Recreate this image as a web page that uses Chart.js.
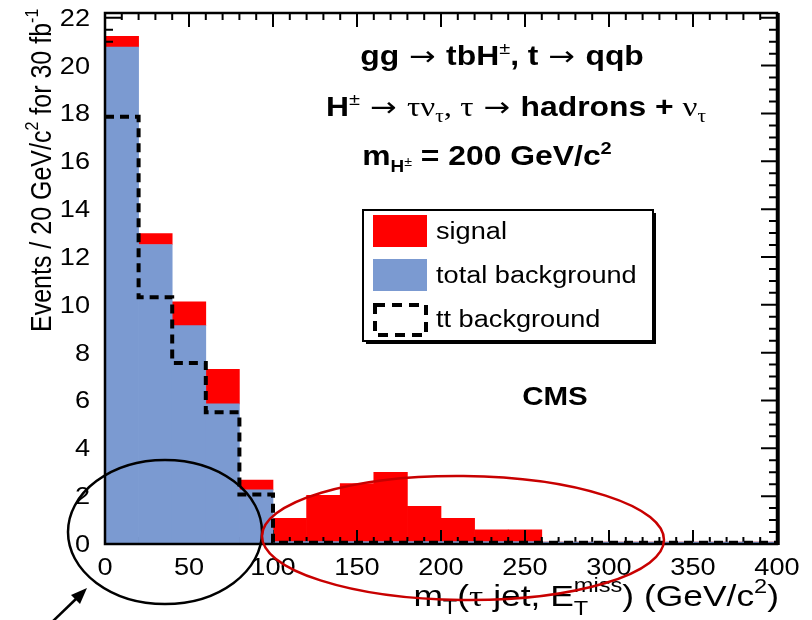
<!DOCTYPE html>
<html>
<head>
<meta charset="utf-8">
<script src="https://cdn.jsdelivr.net/npm/chart.js@4/dist/chart.umd.min.js"></script>
<style>
  html, body { margin: 0; background: #fff; }
  #myChart { display: block; }
</style>
</head>
<body>
<canvas id="myChart" width="812" height="620"></canvas>
<script>
// mT(tau jet, MET) histogram, 20 GeV bins from 0 to 400
const binCenters = [10, 30, 50, 70, 90, 110, 130, 150, 170, 190, 210, 230, 250, 270, 290, 310, 330, 350, 370, 390];
const totalBackground = [20.77, 12.52, 9.13, 5.86, 2.26, 0.1, 0.1, 0.1, 0.1, 0.1, 0.1, 0.1, 0.1, 0.08, 0.08, 0.08, 0.08, 0.08, 0.08, 0.08];
const signal = [0.45, 0.46, 0.99, 1.44, 0.41, 0.97, 1.93, 2.43, 2.9, 1.47, 0.97, 0.49, 0.49, 0, 0, 0, 0, 0, 0, 0];
// tt background as a step line, one value per left bin edge (+ closing edge)
const ttEdges = [0, 20, 40, 60, 80, 100, 120, 140, 160, 180, 200, 220, 240, 260, 280, 300, 320, 340, 360, 380, 400];
const ttBackground = [17.86, 10.32, 7.57, 5.51, 2.07, 0.05, 0.05, 0.05, 0.05, 0.05, 0.05, 0.05, 0.05, 0.05, 0.05, 0.05, 0.05, 0.05, 0.05, 0.05, 0.05];
const xTickLabels = [0, 50, 100, 150, 200, 250, 300, 350, 400];
const yTickLabels = [0, 2, 4, 6, 8, 10, 12, 14, 16, 18, 20, 22];

const RED = '#ff0000';
const BLUE = '#7b9ad1';
const SX = 1.18;   // horizontal text stretch
const SANS = '"Liberation Sans", Arial, sans-serif';
const GREEK = '"Liberation Serif", "DejaVu Serif", serif';

// draw a run of text pieces (font / vertical offset each), optionally rotated
function drawRich(ctx, parts, o) {
    ctx.save();
    let w = 0;
    parts.forEach(p => {
        ctx.font = p.f;
        p.w = p.noAdv ? 0 : ctx.measureText(p.t).width;
        w += p.w;
    });
    ctx.translate(o.x, o.y);
    if (o.rot) ctx.rotate(o.rot);
    ctx.scale(o.sx || 1, o.sy || 1);
    let cx = o.align === 'center' ? -w / 2 : o.align === 'right' ? -w : 0;
    ctx.textAlign = 'left';
    ctx.textBaseline = o.baseline || 'alphabetic';
    ctx.fillStyle = o.color || '#000';
    parts.forEach(p => {
        ctx.font = p.f;
        ctx.fillText(p.t, cx, p.dy || 0);
        cx += p.w;
    });
    ctx.restore();
}

function drawTicks(chart) {
    const ctx = chart.ctx;
    const {left, right, top, bottom} = chart.chartArea;
    const x = chart.scales.x, y = chart.scales.y;
    ctx.save();
    ctx.strokeStyle = '#000';
    ctx.lineWidth = 2;
    ctx.beginPath();
    for (let v = 0; v <= 400; v += 10) {
        const px = x.getPixelForValue(v);
        const len = v % 50 === 0 ? 14 : 7;
        ctx.moveTo(px, bottom); ctx.lineTo(px, bottom - len);
        ctx.moveTo(px, top); ctx.lineTo(px, top + len);
    }
    for (let v = 0; v <= 22; v += 0.5) {
        const py = y.getPixelForValue(v);
        const len = v % 2 === 0 ? 16 : 8;
        ctx.moveTo(left, py); ctx.lineTo(left + len, py);
        ctx.moveTo(right, py); ctx.lineTo(right - len, py);
    }
    ctx.stroke();
    ctx.restore();
}

const histDecor = {
    id: 'histDecor',
    beforeDatasetDraw(chart, args) {
        // ticks sit above the signal but under the background fill
        if (args.index === 1) drawTicks(chart);
    },
    afterDatasetsDraw(chart) {
        const ctx = chart.ctx;
        const {left, right, top, bottom} = chart.chartArea;
        const x = chart.scales.x, y = chart.scales.y;

        // frame
        ctx.save();
        ctx.strokeStyle = '#000';
        ctx.lineWidth = 2.5;
        ctx.strokeRect(left, top, right - left, bottom - top);
        ctx.lineWidth = 3.5;
        ctx.beginPath();
        ctx.moveTo(right + 1, top); ctx.lineTo(right + 1, bottom + 1);
        ctx.stroke();
        ctx.restore();

        // tick labels
        const tickFont = '23px ' + SANS;
        xTickLabels.forEach(v => {
            drawRich(ctx, [{t: String(v), f: tickFont}], {x: x.getPixelForValue(v), y: 575, align: 'center', sx: SX});
        });
        yTickLabels.forEach(v => {
            drawRich(ctx, [{t: String(v), f: tickFont}], {x: 90, y: y.getPixelForValue(v) + 8, align: 'right', sx: SX});
        });

        // axis titles
        const tf = '25px ' + SANS, ts = '16px ' + SANS;
        drawRich(ctx, [
            {t: 'Events / 20 GeV/c', f: tf},
            {t: '2', f: ts, dy: -11},
            {t: ' for 30 fb', f: tf},
            {t: '-1', f: ts, dy: -11}
        ], {x: 51, y: 332, rot: -Math.PI / 2, sy: SX});

        const xf = '30px ' + SANS, xs = '20px ' + SANS;
        drawRich(ctx, [
            {t: 'm', f: xf},
            {t: 'T', f: xs, dy: 8},
            {t: '(', f: xf},
            {t: 'τ', f: '30px ' + GREEK},
            {t: ' jet, E', f: xf},
            {t: 'T', f: xs, dy: 9, noAdv: true},
            {t: 'miss', f: xs, dy: -14},
            {t: ') (GeV/c', f: xf},
            {t: '2', f: xs, dy: -13},
            {t: ')', f: xf}
        ], {x: 779, y: 606, align: 'right', sx: SX});

        // process labels
        const bf = 'bold 27px ' + SANS, bs = '17px ' + SANS, gf = '28px ' + GREEK, gs = '18px ' + GREEK;
        const arrow = {t: ' → ', f: '27px "DejaVu Sans", sans-serif'};
        drawRich(ctx, [
            {t: 'gg', f: bf}, arrow, {t: 'tbH', f: bf}, {t: '±', f: bs, dy: -11},
            {t: ', t', f: bf}, arrow, {t: 'qqb', f: bf}
        ], {x: 502, y: 65, align: 'center', sx: SX});
        drawRich(ctx, [
            {t: 'H', f: bf}, {t: '±', f: bs, dy: -11}, arrow,
            {t: 'τν', f: gf}, {t: 'τ', f: gs, dy: 6}, {t: ', τ', f: gf}, arrow,
            {t: 'hadrons + ', f: bf}, {t: 'ν', f: gf}, {t: 'τ', f: gs, dy: 6}
        ], {x: 516, y: 116, align: 'center', sx: SX});
        drawRich(ctx, [
            {t: 'm', f: bf}, {t: 'H', f: 'bold 16px ' + SANS, dy: 7}, {t: '±', f: '12px ' + SANS, dy: 1},
            {t: ' = 200 GeV/c', f: bf}, {t: '2', f: 'bold 17px ' + SANS, dy: -11}
        ], {x: 487, y: 165, align: 'center', sx: SX});
        drawRich(ctx, [{t: 'CMS', f: 'bold 25px ' + SANS}], {x: 555, y: 405, align: 'center', sx: SX});

        // legend box with drop shadow
        const lx = 363, ly = 210, lw = 290, lh = 131;
        ctx.save();
        ctx.fillStyle = '#000';
        ctx.fillRect(lx + 3, ly + 3, lw, lh);
        ctx.fillStyle = '#fff';
        ctx.fillRect(lx, ly, lw, lh);
        ctx.strokeStyle = '#000';
        ctx.lineWidth = 2;
        ctx.strokeRect(lx, ly, lw, lh);
        const ds = chart.data.datasets;
        ctx.fillStyle = ds[2].backgroundColor;
        ctx.fillRect(373, 215, 54, 32);
        ctx.fillStyle = ds[1].backgroundColor;
        ctx.fillRect(373, 259, 54, 32);
        ctx.lineWidth = 4;
        ctx.setLineDash([10, 7]);
        ctx.strokeRect(375, 305, 51, 30);
        ctx.restore();
        const lf = '23px ' + SANS;
        drawRich(ctx, [{t: ds[2].label, f: lf}], {x: 436, y: 239, sx: SX});
        drawRich(ctx, [{t: ds[1].label, f: lf}], {x: 436, y: 283, sx: SX});
        drawRich(ctx, [{t: ds[0].label, f: lf}], {x: 436, y: 327, sx: SX});

        // highlighted regions
        ctx.save();
        ctx.lineWidth = 2.5;
        ctx.strokeStyle = '#000';
        ctx.beginPath();
        ctx.ellipse(165, 532, 97, 72, 0, 0, Math.PI * 2);
        ctx.stroke();
        ctx.strokeStyle = '#c80000';
        ctx.beginPath();
        ctx.ellipse(463, 538, 201, 62, 0.01, 0, Math.PI * 2);
        ctx.stroke();
        // arrow pointing at the low-mT ellipse
        ctx.strokeStyle = '#000';
        ctx.fillStyle = '#000';
        ctx.lineWidth = 2.5;
        ctx.beginPath();
        ctx.moveTo(50, 624); ctx.lineTo(78, 597);
        ctx.stroke();
        ctx.beginPath();
        ctx.moveTo(87, 588); ctx.lineTo(71, 595); ctx.lineTo(80, 604);
        ctx.closePath();
        ctx.fill();
        ctx.restore();
    }
};

window.addEventListener('load', setup);

function setup() {
    const ctx = document.getElementById('myChart').getContext('2d');
    new Chart(ctx, {
        type: 'bar',
        data: {
            datasets: [{
                type: 'line',
                label: 'tt background',
                data: ttEdges.map((x, i) => ({x, y: ttBackground[i]})),
                stepped: 'before',
                borderColor: '#000',
                borderWidth: 4,
                borderDash: [9, 6],
                pointRadius: 0,
                fill: false,
                stack: 'tt',
                order: 0
            }, {
                label: 'total background',
                data: binCenters.map((x, i) => ({x, y: totalBackground[i]})),
                backgroundColor: BLUE,
                borderWidth: 0,
                barPercentage: 1,
                categoryPercentage: 1,
                stack: 'hist',
                order: 1
            }, {
                label: 'signal',
                data: binCenters.map((x, i) => ({x, y: signal[i]})),
                backgroundColor: RED,
                borderWidth: 0,
                barPercentage: 1,
                categoryPercentage: 1,
                stack: 'hist',
                order: 2
            }]
        },
        options: {
            responsive: false,
            animation: false,
            layout: {padding: {left: 97, right: 35, top: 13, bottom: 68}},
            plugins: {legend: {display: false}, tooltip: {enabled: false}},
            scales: {
                x: {
                    type: 'linear', min: 0, max: 400, stacked: true, offset: false,
                    ticks: {display: false, stepSize: 50},
                    grid: {display: false, offset: false}, border: {display: false}
                },
                y: {
                    min: 0, max: 22.2, stacked: true,
                    ticks: {display: false, stepSize: 2},
                    grid: {display: false}, border: {display: false}
                }
            }
        },
        plugins: [histDecor]
    });
}
</script>
</body>
</html>
